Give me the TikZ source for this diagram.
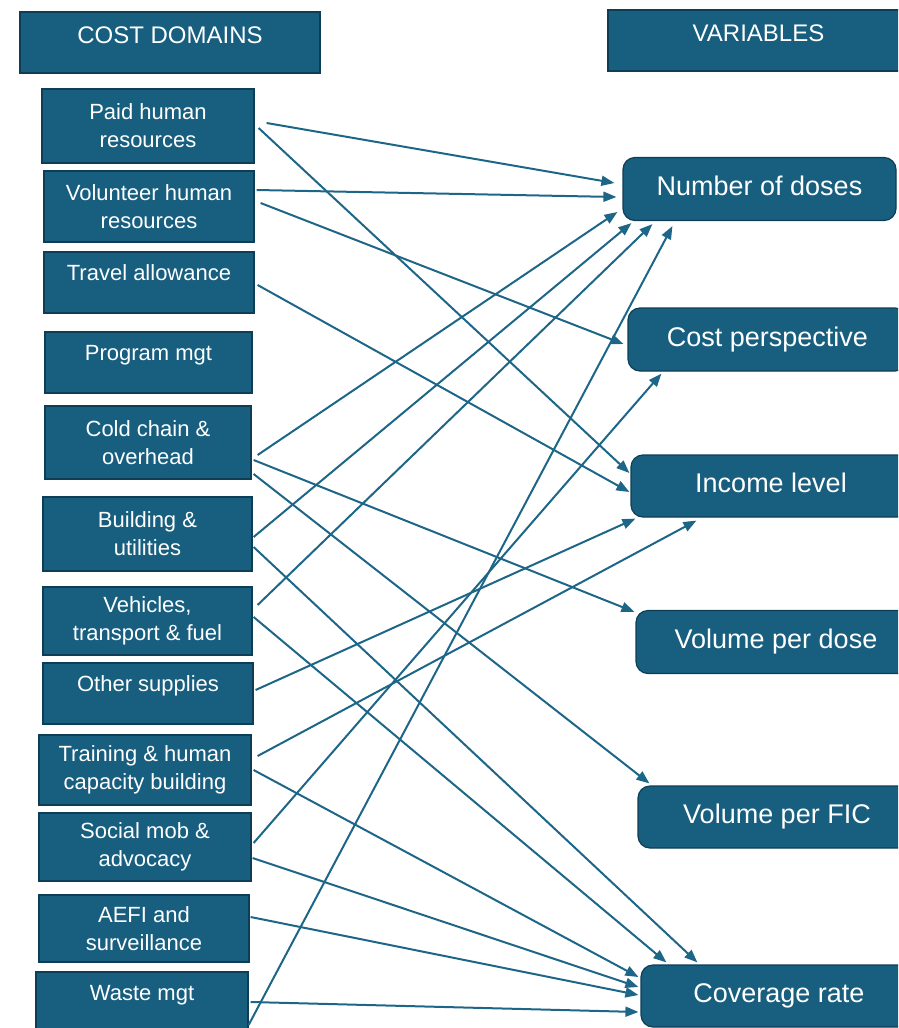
\documentclass[tikz,border=0pt]{standalone}
\usepackage{fontspec}
\setmainfont{Liberation Sans}
\usepackage{tikz}
\usetikzlibrary{calc, arrows.meta}

\definecolor{boxfill}{RGB}{23,94,127}
\definecolor{boxedge}{RGB}{14,62,86}
\definecolor{linecol}{RGB}{30,102,136}

\begin{document}
\begin{tikzpicture}[x=1pt, y=-1pt,
		costbox/.style = {draw=boxedge, fill=boxfill, text=white, line width=1.2pt, align=center, inner sep=0pt, font=\fontsize{22}{28}\selectfont},
		headbox/.style = {costbox, font=\fontsize{24}{29}\selectfont},
		varbox/.style = {costbox, rounded corners=12pt, text depth=6pt, font=\fontsize{27}{32}\selectfont},
		arrowline/.style = {draw=linecol, line width=2pt, -{Triangle[length=13pt,width=10pt]}}]
	\useasboundingbox (0,0) rectangle (898,1028);
	\clip (0,0) rectangle (898,1028);

	\node[headbox, minimum width=300pt, minimum height=61pt] (costhead) at (170,42.5) {COST DOMAINS\\[-14pt]~};
	\node[headbox, minimum width=301pt, minimum height=61pt] (varhead) at (758.5,40.5) {VARIABLES\\[-14pt]~};

	\node[costbox, minimum width=212pt, minimum height=74pt] (paid) at (148,126) {Paid human\\resources};
	\node[costbox, minimum width=210pt, minimum height=71pt] (volunteer) at (149,206.5) {Volunteer human\\resources};
	\node[costbox, minimum width=210pt, minimum height=61pt] (travel) at (149,282.5) {Travel allowance\\[-8pt]~};
	\node[costbox, minimum width=207pt, minimum height=61pt] (program) at (148.5,362.5) {Program mgt\\[-8pt]~};
	\node[costbox, minimum width=206pt, minimum height=73pt] (coldchain) at (148,442.5) {Cold chain \&\\overhead};
	\node[costbox, minimum width=209pt, minimum height=74pt] (building) at (147.5,534) {Building \&\\utilities};
	\node[costbox, minimum width=209pt, minimum height=68pt] (vehicles) at (147.5,621) {Vehicles,\\transport \& fuel};
	\node[costbox, minimum width=210pt, minimum height=61pt] (other) at (148,693.5) {Other supplies\\[-8pt]~};
	\node[costbox, minimum width=212pt, minimum height=70pt] (training) at (145,770) {Training \& human\\capacity building};
	\node[costbox, minimum width=212pt, minimum height=68pt] (socialmob) at (145,847) {Social mob \&\\advocacy};
	\node[costbox, minimum width=210pt, minimum height=67pt] (aefi) at (144,928.5) {AEFI and\\surveillance};
	\node[costbox, minimum width=212pt, minimum height=68pt] (waste) at (142,1006) {Waste mgt\\[-2pt]~};

	\node[varbox, minimum width=273pt, minimum height=63pt] (numdoses) at (759.5,189) {Number of doses};
	\node[varbox, minimum width=279pt, minimum height=63pt] (costpersp) at (767.5,339.5) {Cost perspective};
	\node[varbox, minimum width=280pt, minimum height=62pt] (income) at (771,486) {Income level};
	\node[varbox, minimum width=280pt, minimum height=63pt] (voldose) at (776,642) {Volume per dose};
	\node[varbox, minimum width=278pt, minimum height=62pt] (volfic) at (777,817) {Volume per FIC};
	\node[varbox, minimum width=276pt, minimum height=62pt] (coverage) at (779,996) {Coverage rate};

	\draw[arrowline] ($(paid.east)+(12,-3)$) -- ($(numdoses.west)+(-8,-6)$);
	\draw[arrowline] ($(paid.east)+(4,2)$) -- ($(income.west)+(-1,-13)$);
	\draw[arrowline] ($(volunteer.east)+(2,-16.5)$) -- ($(numdoses.west)+(-6,8)$);
	\draw[arrowline] ($(volunteer.east)+(6,-3.5)$) -- ($(costpersp.west)+(-4,4.5)$);
	\draw[arrowline] ($(travel.east)+(3,2.5)$) -- ($(income.west)+(-1,6)$);
	\draw[arrowline] ($(coldchain.east)+(6,12.5)$) -- ($(numdoses.west)+(-5,23)$);
	\draw[arrowline] ($(coldchain.east)+(2,17.5)$) -- ($(voldose.north west)+(-1,2)$);
	\draw[arrowline] ($(coldchain.east)+(2,31.5)$) -- ($(volfic.north west)+(12,-2)$);
	\draw[arrowline] ($(building.east)+(1,3)$) -- ($(numdoses.south west)+(9,2)$);
	\draw[arrowline] ($(building.east)+(1,13)$) -- ($(coverage.north west)+(57,-2)$);
	\draw[arrowline] ($(vehicles.east)+(5,-16)$) -- ($(numdoses.south west)+(30,3)$);
	\draw[arrowline] ($(vehicles.east)+(1,-4)$) -- ($(coverage.north west)+(26,-2)$);
	\draw[arrowline] ($(other.east)+(2,-3.5)$) -- ($(income.south west)+(5,1)$);
	\draw[arrowline] ($(training.east)+(6,-14)$) -- ($(income.south west)+(66,3)$);
	\draw[arrowline] ($(training.east)+(2,0)$) -- ($(coverage.west)+(-2,-19)$);
	\draw[arrowline] ($(socialmob.east)+(2,-4)$) -- ($(costpersp.south west)+(34,2)$);
	\draw[arrowline] ($(socialmob.east)+(1,11)$) -- ($(coverage.west)+(-2,-9)$);
	\draw[arrowline] ($(aefi.east)+(1,-11.5)$) -- ($(coverage.west)+(-2,-1)$);
	\draw[arrowline] ($(waste.east)+(0,19)$) -- ($(numdoses.south west)+(50,5)$);
	\draw[arrowline] ($(waste.east)+(2,-4)$) -- ($(coverage.west)+(-2,16)$);
\end{tikzpicture}
\end{document}
